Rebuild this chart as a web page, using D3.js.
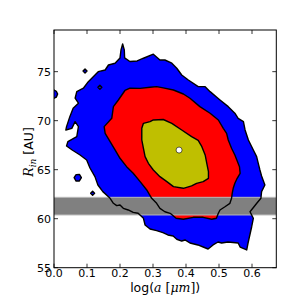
<!DOCTYPE html>
<html>
<head>
<meta charset="utf-8">
<script src="https://cdn.jsdelivr.net/npm/d3@7"></script>
<style>
  body { margin: 0; background: #fff; }
  svg { display: block; font-family: "DejaVu Sans", sans-serif; }
</style>
</head>
<body>
<div id="chart"></div>
<script>
// axis ranges and ticks
const xDomain = [0, 0.6736];
const yDomain = [55, 79.25];
const xTicks = [0.0, 0.1, 0.2, 0.3, 0.4, 0.5, 0.6];
const yTicks = [55, 60, 65, 70, 75];

// gray band (R_in range)
const band = [60.38, 62.18];

// best fit point
const bestFit = [0.379, 67.0];

// outer (blue) contour, [log a, R_in]
const blueLevel = [
  [0.208, 77.83], [0.213, 77.21], [0.214, 76.40], [0.230, 76.04], [0.252, 76.09],
  [0.271, 76.37], [0.301, 76.78], [0.321, 76.19], [0.336, 76.19], [0.357, 75.86],
  [0.372, 75.35], [0.387, 74.66], [0.407, 74.15], [0.437, 73.47], [0.458, 73.47],
  [0.473, 72.96], [0.503, 72.11], [0.528, 71.43], [0.548, 70.76], [0.558, 70.24],
  [0.574, 69.90], [0.579, 69.05], [0.589, 68.03], [0.604, 67.01], [0.614, 66.33],
  [0.619, 65.65], [0.624, 64.97], [0.629, 64.36], [0.639, 63.44], [0.629, 62.76],
  [0.627, 62.08], [0.615, 61.60], [0.594, 60.71], [0.604, 60.04], [0.599, 59.18],
  [0.588, 57.52], [0.584, 56.81], [0.564, 57.11], [0.558, 57.52], [0.527, 57.62],
  [0.508, 57.52], [0.497, 57.62], [0.482, 57.32], [0.467, 56.91], [0.452, 57.11],
  [0.436, 57.32], [0.412, 57.52], [0.397, 57.83], [0.387, 57.72], [0.372, 57.90],
  [0.361, 58.23], [0.345, 58.34], [0.330, 58.57], [0.311, 58.78], [0.291, 58.95],
  [0.276, 59.36], [0.271, 60.04], [0.255, 60.55], [0.240, 60.65], [0.225, 60.89],
  [0.210, 61.06], [0.200, 61.40], [0.190, 61.33], [0.180, 61.57], [0.170, 62.08],
  [0.148, 62.76], [0.133, 63.44], [0.124, 64.29], [0.109, 65.17], [0.099, 65.99],
  [0.079, 66.50], [0.055, 67.01], [0.038, 67.42], [0.042, 67.86], [0.069, 68.37],
  [0.074, 69.39], [0.064, 69.90], [0.054, 69.22], [0.036, 69.05], [0.038, 69.39],
  [0.048, 70.41], [0.058, 71.27], [0.074, 71.78], [0.064, 72.29], [0.069, 72.96],
  [0.089, 73.31], [0.104, 73.98], [0.119, 74.49], [0.134, 75.00], [0.155, 75.17],
  [0.165, 75.68], [0.185, 75.86], [0.200, 76.40], [0.203, 77.21]
];

// small isolated islands at the outer level
const blueIslands = [
  [[-0.006, 73.25], [0.007, 73.0], [0.011, 72.72], [0.007, 72.4], [-0.006, 72.2]],
  [[0.088, 75.07], [0.094, 75.28], [0.100, 75.07], [0.094, 74.86]],
  [[0.133, 73.41], [0.139, 73.62], [0.145, 73.41], [0.139, 73.20]],
  [[0.061, 64.18], [0.067, 64.50], [0.077, 64.52], [0.083, 64.18], [0.077, 63.85], [0.067, 63.84]],
  [[0.111, 62.59], [0.117, 62.80], [0.123, 62.59], [0.117, 62.38]]
];

// middle (red) contour
const redLevel = [
  [0.152, 69.39], [0.175, 70.24], [0.180, 71.43], [0.195, 72.11], [0.215, 73.08],
  [0.230, 73.31], [0.261, 73.29], [0.291, 73.41], [0.311, 73.47], [0.331, 73.34],
  [0.362, 73.13], [0.392, 72.72], [0.412, 72.29], [0.442, 71.43], [0.473, 70.76],
  [0.498, 70.07], [0.513, 69.22], [0.523, 68.71], [0.528, 68.03], [0.538, 67.18],
  [0.548, 66.50], [0.554, 65.99], [0.562, 65.31], [0.564, 64.63], [0.555, 64.12],
  [0.548, 63.61], [0.543, 63.10], [0.540, 62.59], [0.538, 62.08], [0.533, 61.57],
  [0.518, 61.22], [0.503, 60.89], [0.498, 60.55], [0.492, 60.04], [0.478, 59.94],
  [0.452, 60.14], [0.422, 60.14], [0.392, 59.94], [0.370, 60.04], [0.352, 60.55],
  [0.336, 60.71], [0.321, 61.06], [0.311, 61.57], [0.296, 62.08], [0.281, 62.93],
  [0.261, 63.78], [0.240, 64.63], [0.220, 65.31], [0.200, 66.16], [0.185, 67.01],
  [0.170, 67.86], [0.155, 68.71]
];

// inner (yellow) contour
const yellowLevel = [
  [0.266, 69.22], [0.271, 69.73], [0.291, 69.90], [0.301, 70.07], [0.331, 70.12],
  [0.357, 69.73], [0.387, 69.05], [0.417, 68.37], [0.437, 67.98], [0.448, 67.35],
  [0.458, 66.50], [0.463, 65.65], [0.468, 64.80], [0.468, 64.12], [0.452, 63.78],
  [0.432, 63.61], [0.417, 63.34], [0.392, 63.10], [0.362, 63.27], [0.342, 63.78],
  [0.321, 64.29], [0.301, 64.97], [0.286, 65.65], [0.276, 66.33], [0.271, 67.18],
  [0.266, 68.03], [0.266, 68.71]
];

const width = 307, height = 307;
const margin = { top: 30, right: 30.7, bottom: 39.3, left: 54 };

const svg = d3.select("#chart").append("svg")
  .attr("width", width)
  .attr("height", height);

const x = d3.scaleLinear().domain(xDomain).range([margin.left, width - margin.right]);
const y = d3.scaleLinear().domain(yDomain).range([height - margin.bottom, margin.top]);

svg.append("clipPath").attr("id", "plot-clip")
  .append("rect")
  .attr("x", x(xDomain[0])).attr("y", y(yDomain[1]))
  .attr("width", x(xDomain[1]) - x(xDomain[0]))
  .attr("height", y(yDomain[0]) - y(yDomain[1]));

const plot = svg.append("g").attr("clip-path", "url(#plot-clip)");

const line = d3.line().x(d => x(d[0])).y(d => y(d[1]));
const closed = d => line(d) + "Z";

// filled levels
const levels = [
  { shapes: [blueLevel, ...blueIslands], color: "#0000ff" },
  { shapes: [redLevel], color: "#ff0000" },
  { shapes: [yellowLevel], color: "#bfbf00" }
];

levels.forEach(level => {
  plot.selectAll(null)
    .data(level.shapes)
    .enter()
    .append("path")
    .attr("d", closed)
    .attr("fill", level.color);
});

// gray band over the fills
plot.append("rect")
  .attr("x", x(xDomain[0]))
  .attr("width", x(xDomain[1]) - x(xDomain[0]))
  .attr("y", y(band[1]))
  .attr("height", y(band[0]) - y(band[1]))
  .attr("fill", "#808080");

plot.selectAll(".band-edge")
  .data(band)
  .enter()
  .append("line")
  .attr("class", "band-edge")
  .attr("x1", x(xDomain[0])).attr("x2", x(xDomain[1]))
  .attr("y1", d => y(d)).attr("y2", d => y(d))
  .attr("stroke", "#b8b8b8")
  .attr("stroke-width", 1);

// contour lines on top
levels.forEach(level => {
  plot.selectAll(null)
    .data(level.shapes)
    .enter()
    .append("path")
    .attr("d", closed)
    .attr("fill", "none")
    .attr("stroke", "#000")
    .attr("stroke-width", 1.4)
    .attr("stroke-linejoin", "round");
});

// best fit marker
plot.append("circle")
  .attr("cx", x(bestFit[0]))
  .attr("cy", y(bestFit[1]))
  .attr("r", 3)
  .attr("fill", "#fff")
  .attr("stroke", "#000")
  .attr("stroke-width", 0.6);

// frame
svg.append("rect")
  .attr("x", x(xDomain[0])).attr("y", y(yDomain[1]))
  .attr("width", x(xDomain[1]) - x(xDomain[0]))
  .attr("height", y(yDomain[0]) - y(yDomain[1]))
  .attr("fill", "none")
  .attr("stroke", "#000")
  .attr("stroke-width", 1);

// ticks pointing inward on all four sides
const tickLen = 4;
const ticks = svg.append("g").attr("stroke", "#000").attr("stroke-width", 0.8);
xTicks.forEach(t => {
  ticks.append("line").attr("x1", x(t)).attr("x2", x(t))
    .attr("y1", y(yDomain[0])).attr("y2", y(yDomain[0]) - tickLen);
  ticks.append("line").attr("x1", x(t)).attr("x2", x(t))
    .attr("y1", y(yDomain[1])).attr("y2", y(yDomain[1]) + tickLen);
});
yTicks.forEach(t => {
  ticks.append("line").attr("x1", x(xDomain[0])).attr("x2", x(xDomain[0]) + tickLen)
    .attr("y1", y(t)).attr("y2", y(t));
  ticks.append("line").attr("x1", x(xDomain[1])).attr("x2", x(xDomain[1]) - tickLen)
    .attr("y1", y(t)).attr("y2", y(t));
});

svg.append("g")
  .selectAll("text")
  .data(xTicks)
  .enter()
  .append("text")
  .attr("x", d => x(d))
  .attr("y", y(yDomain[0]) + 9)
  .attr("text-anchor", "middle")
  .attr("font-size", 11)
  .text(d3.format(".1f"));

svg.append("g")
  .selectAll("text")
  .data(yTicks)
  .enter()
  .append("text")
  .attr("x", x(xDomain[0]) - 3)
  .attr("y", d => y(d) + 4)
  .attr("text-anchor", "end")
  .attr("font-size", 11)
  .text(d => d);

// x label: log(a [μm])
const xLabel = svg.append("text")
  .attr("x", (x(xDomain[0]) + x(xDomain[1])) / 2)
  .attr("y", 292)
  .attr("text-anchor", "middle")
  .attr("font-size", 12.5);
xLabel.append("tspan").text("log(");
xLabel.append("tspan").attr("font-family", "DejaVu Serif").attr("font-style", "italic").text("a");
xLabel.append("tspan").attr("font-family", "DejaVu Serif").text(" [");
xLabel.append("tspan").attr("font-family", "DejaVu Serif").attr("font-style", "italic").text("μm");
xLabel.append("tspan").attr("font-family", "DejaVu Serif").text("]");
xLabel.append("tspan").text(")");

// y label: R_in [AU]
const yLabel = svg.append("text")
  .attr("transform", "translate(33,152) rotate(-90)")
  .attr("text-anchor", "middle")
  .attr("font-size", 12.5);
yLabel.append("tspan").attr("font-family", "DejaVu Serif").attr("font-style", "italic").text("R");
yLabel.append("tspan").attr("font-family", "DejaVu Serif").attr("font-style", "italic")
  .attr("font-size", 9).attr("dy", 3).text("in");
yLabel.append("tspan").attr("dy", -3).text("  [AU]");
</script>
</body>
</html>
